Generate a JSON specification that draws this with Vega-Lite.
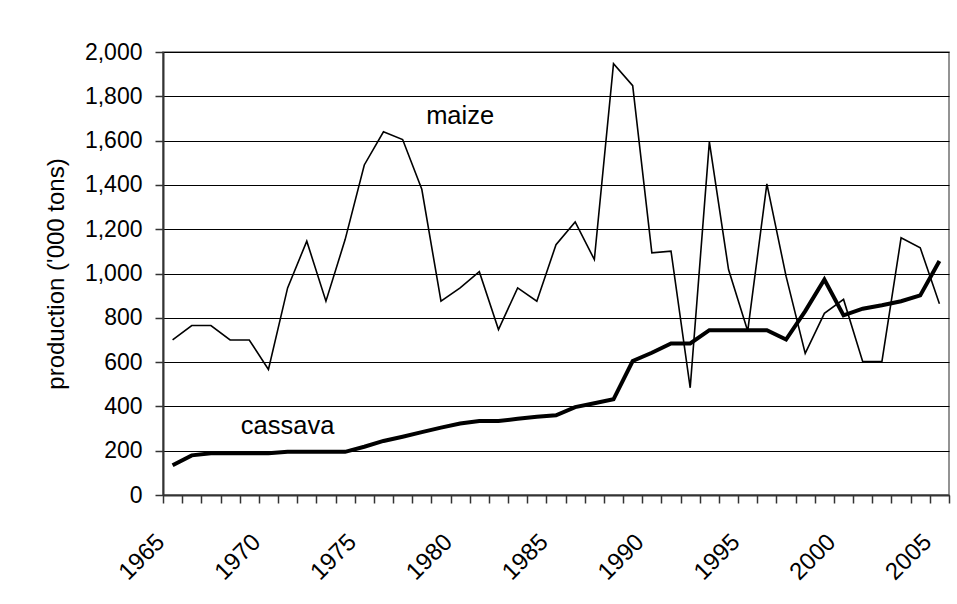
{
  "$schema": "https://vega.github.io/schema/vega-lite/v6.json",
  "width": 786,
  "height": 443,
  "autosize": {"type": "none"},
  "padding": {"left": 163, "top": 52, "right": 8, "bottom": 109},
  "background": "white",
  "config": {
    "font": "Liberation Sans",
    "view": {"stroke": "#707070", "strokeWidth": 1.5}
  },
  "data": {
    "values": [
      {"year": 1965, "crop": "maize", "value": 700},
      {"year": 1966, "crop": "maize", "value": 765},
      {"year": 1967, "crop": "maize", "value": 765},
      {"year": 1968, "crop": "maize", "value": 700},
      {"year": 1969, "crop": "maize", "value": 700},
      {"year": 1970, "crop": "maize", "value": 567},
      {"year": 1971, "crop": "maize", "value": 935},
      {"year": 1972, "crop": "maize", "value": 1146},
      {"year": 1973, "crop": "maize", "value": 875},
      {"year": 1974, "crop": "maize", "value": 1153},
      {"year": 1975, "crop": "maize", "value": 1490},
      {"year": 1976, "crop": "maize", "value": 1640},
      {"year": 1977, "crop": "maize", "value": 1605},
      {"year": 1978, "crop": "maize", "value": 1380},
      {"year": 1979, "crop": "maize", "value": 875},
      {"year": 1980, "crop": "maize", "value": 935},
      {"year": 1981, "crop": "maize", "value": 1008},
      {"year": 1982, "crop": "maize", "value": 747},
      {"year": 1983, "crop": "maize", "value": 935},
      {"year": 1984, "crop": "maize", "value": 875},
      {"year": 1985, "crop": "maize", "value": 1130},
      {"year": 1986, "crop": "maize", "value": 1233},
      {"year": 1987, "crop": "maize", "value": 1063},
      {"year": 1988, "crop": "maize", "value": 1947},
      {"year": 1989, "crop": "maize", "value": 1848},
      {"year": 1990, "crop": "maize", "value": 1093},
      {"year": 1991, "crop": "maize", "value": 1101},
      {"year": 1992, "crop": "maize", "value": 484},
      {"year": 1993, "crop": "maize", "value": 1594},
      {"year": 1994, "crop": "maize", "value": 1018},
      {"year": 1995, "crop": "maize", "value": 740},
      {"year": 1996, "crop": "maize", "value": 1405},
      {"year": 1997, "crop": "maize", "value": 988},
      {"year": 1998, "crop": "maize", "value": 639},
      {"year": 1999, "crop": "maize", "value": 820},
      {"year": 2000, "crop": "maize", "value": 883},
      {"year": 2001, "crop": "maize", "value": 602},
      {"year": 2002, "crop": "maize", "value": 602},
      {"year": 2003, "crop": "maize", "value": 1161},
      {"year": 2004, "crop": "maize", "value": 1116},
      {"year": 2005, "crop": "maize", "value": 863},
      {"year": 1965, "crop": "cassava", "value": 134},
      {"year": 1966, "crop": "cassava", "value": 179},
      {"year": 1967, "crop": "cassava", "value": 188},
      {"year": 1968, "crop": "cassava", "value": 188},
      {"year": 1969, "crop": "cassava", "value": 188},
      {"year": 1970, "crop": "cassava", "value": 188},
      {"year": 1971, "crop": "cassava", "value": 195},
      {"year": 1972, "crop": "cassava", "value": 195},
      {"year": 1973, "crop": "cassava", "value": 195},
      {"year": 1974, "crop": "cassava", "value": 195},
      {"year": 1975, "crop": "cassava", "value": 218},
      {"year": 1976, "crop": "cassava", "value": 244},
      {"year": 1977, "crop": "cassava", "value": 263},
      {"year": 1978, "crop": "cassava", "value": 284},
      {"year": 1979, "crop": "cassava", "value": 304},
      {"year": 1980, "crop": "cassava", "value": 323},
      {"year": 1981, "crop": "cassava", "value": 334},
      {"year": 1982, "crop": "cassava", "value": 334},
      {"year": 1983, "crop": "cassava", "value": 344},
      {"year": 1984, "crop": "cassava", "value": 353},
      {"year": 1985, "crop": "cassava", "value": 360},
      {"year": 1986, "crop": "cassava", "value": 397},
      {"year": 1987, "crop": "cassava", "value": 414},
      {"year": 1988, "crop": "cassava", "value": 432},
      {"year": 1989, "crop": "cassava", "value": 605},
      {"year": 1990, "crop": "cassava", "value": 642},
      {"year": 1991, "crop": "cassava", "value": 684},
      {"year": 1992, "crop": "cassava", "value": 684},
      {"year": 1993, "crop": "cassava", "value": 744},
      {"year": 1994, "crop": "cassava", "value": 744},
      {"year": 1995, "crop": "cassava", "value": 744},
      {"year": 1996, "crop": "cassava", "value": 744},
      {"year": 1997, "crop": "cassava", "value": 702},
      {"year": 1998, "crop": "cassava", "value": 830},
      {"year": 1999, "crop": "cassava", "value": 973},
      {"year": 2000, "crop": "cassava", "value": 811},
      {"year": 2001, "crop": "cassava", "value": 841},
      {"year": 2002, "crop": "cassava", "value": 857},
      {"year": 2003, "crop": "cassava", "value": 875},
      {"year": 2004, "crop": "cassava", "value": 901},
      {"year": 2005, "crop": "cassava", "value": 1056},
      {"year": 1980, "crop": "note", "value": 1713, "label": "maize"},
      {"year": 1971, "crop": "note", "value": 310, "label": "cassava"}
    ]
  },
  "encoding": {
    "x": {
      "field": "year",
      "type": "ordinal",
      "scale": {"type": "band", "paddingInner": 0, "paddingOuter": 0},
      "axis": {
        "title": null,
        "grid": false,
        "ticks": true,
        "tickBand": "extent",
        "tickSize": 8,
        "tickWidth": 1.5,
        "tickColor": "#333333",
        "domainColor": "#333333",
        "domainWidth": 2,
        "labelAngle": -45,
        "labelAlign": "right",
        "labelBaseline": "middle",
        "labelPadding": 35,
        "labelOffset": -12,
        "labelFontSize": 24,
        "labelColor": "black",
        "labelOverlap": false,
        "labelExpr": "datum.value % 5 == 0 ? datum.label : ''"
      }
    },
    "y": {
      "field": "value",
      "type": "quantitative",
      "scale": {"domain": [0, 2000], "nice": false},
      "axis": {
        "title": "production ('000 tons)",
        "titleFontSize": 24,
        "titleFontWeight": "normal",
        "titleColor": "black",
        "titlePadding": 16,
        "tickCount": 10,
        "format": ",d",
        "grid": true,
        "gridColor": "black",
        "gridWidth": 1,
        "ticks": true,
        "tickSize": 8,
        "tickWidth": 1.5,
        "tickColor": "#333333",
        "domainColor": "#333333",
        "domainWidth": 2,
        "labelPadding": 13,
        "labelFontSize": 23,
        "labelColor": "black"
      }
    }
  },
  "layer": [
    {
      "transform": [{"filter": "datum.crop != 'note'"}],
      "mark": {"type": "line", "color": "black", "strokeJoin": "miter"},
      "encoding": {
        "detail": {"field": "crop"},
        "strokeWidth": {
          "field": "crop",
          "type": "nominal",
          "scale": {"domain": ["maize", "cassava"], "range": [1.6, 4]},
          "legend": null
        }
      }
    },
    {
      "transform": [{"filter": "datum.crop == 'note'"}],
      "mark": {"type": "text", "fontSize": 25.5, "color": "black", "align": "center", "baseline": "middle"},
      "encoding": {
        "text": {"field": "label"}
      }
    }
  ]
}
